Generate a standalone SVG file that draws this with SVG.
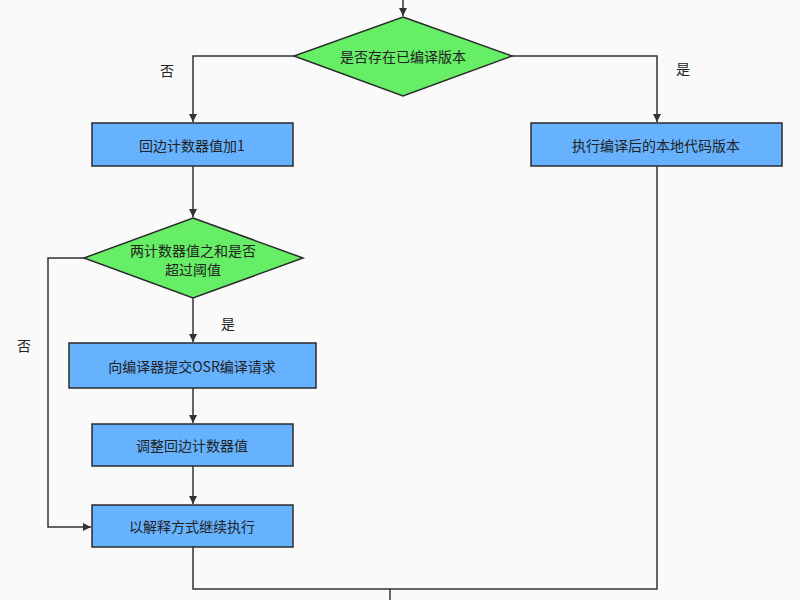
<svg xmlns="http://www.w3.org/2000/svg" width="800" height="600" viewBox="0 0 800 600">
<style>
.b{fill:#66b2ff;stroke:#2b2b2b;stroke-width:1.5}
.d{fill:#66ee66;stroke:#2b2b2b;stroke-width:1.5}
.t{font-family:"Noto Sans CJK SC",sans-serif;font-size:14px;fill:#222;text-anchor:middle;dominant-baseline:central}
.c{fill:none;stroke:#333;stroke-width:1.5}
</style>
<defs><marker id="a" viewBox="0 0 10 10" refX="10" refY="5" markerWidth="8" markerHeight="8" orient="auto" markerUnits="userSpaceOnUse"><path d="M0,0L10,5L0,10z" fill="#333"/></marker></defs>
<rect width="800" height="600" fill="#fafafa"/>
<g id="connectors">
<path class="c" d="M403,0V16" marker-end="url(#a)"/>
<path class="c" d="M294,56H193V122" marker-end="url(#a)"/>
<path class="c" d="M512,56H657V122" marker-end="url(#a)"/>
<path class="c" d="M193,166V217" marker-end="url(#a)"/>
<path class="c" d="M84,258H48V527H91" marker-end="url(#a)"/>
<path class="c" d="M193,298V342" marker-end="url(#a)"/>
<path class="c" d="M193,388V423" marker-end="url(#a)"/>
<path class="c" d="M193,466V504" marker-end="url(#a)"/>
<path class="c" d="M193,547V589H657V166"/>
<path class="c" d="M390,589V600"/>
<text class="t" x="167" y="70">否</text>
<text class="t" x="683" y="68">是</text>
<text class="t" x="228" y="323">是</text>
<text class="t" x="24" y="345">否</text>
</g>
<g id="d1"><polygon class="d" points="403,17 512,56 403,96 294,56"/><text class="t" x="403" y="56">是否存在已编译版本</text></g>
<g id="b1"><rect class="b" x="92" y="123" width="201" height="43"/><text class="t" x="192" y="145">回边计数器值加1</text></g>
<g id="b2"><rect class="b" x="531" y="123" width="251" height="43"/><text class="t" x="656" y="145">执行编译后的本地代码版本</text></g>
<g id="d2"><polygon class="d" points="193,218 303,258 193,298 84,258"/><text class="t" x="193" y="250">两计数器值之和是否</text><text class="t" x="193" y="269">超过阈值</text></g>
<g id="b3"><rect class="b" x="69" y="343" width="247" height="45"/><text class="t" x="192" y="366">向编译器提交OSR编译请求</text></g>
<g id="b4"><rect class="b" x="92" y="424" width="201" height="42"/><text class="t" x="192" y="445">调整回边计数器值</text></g>
<g id="b5"><rect class="b" x="92" y="505" width="201" height="42"/><text class="t" x="192" y="526">以解释方式继续执行</text></g>
</svg>
